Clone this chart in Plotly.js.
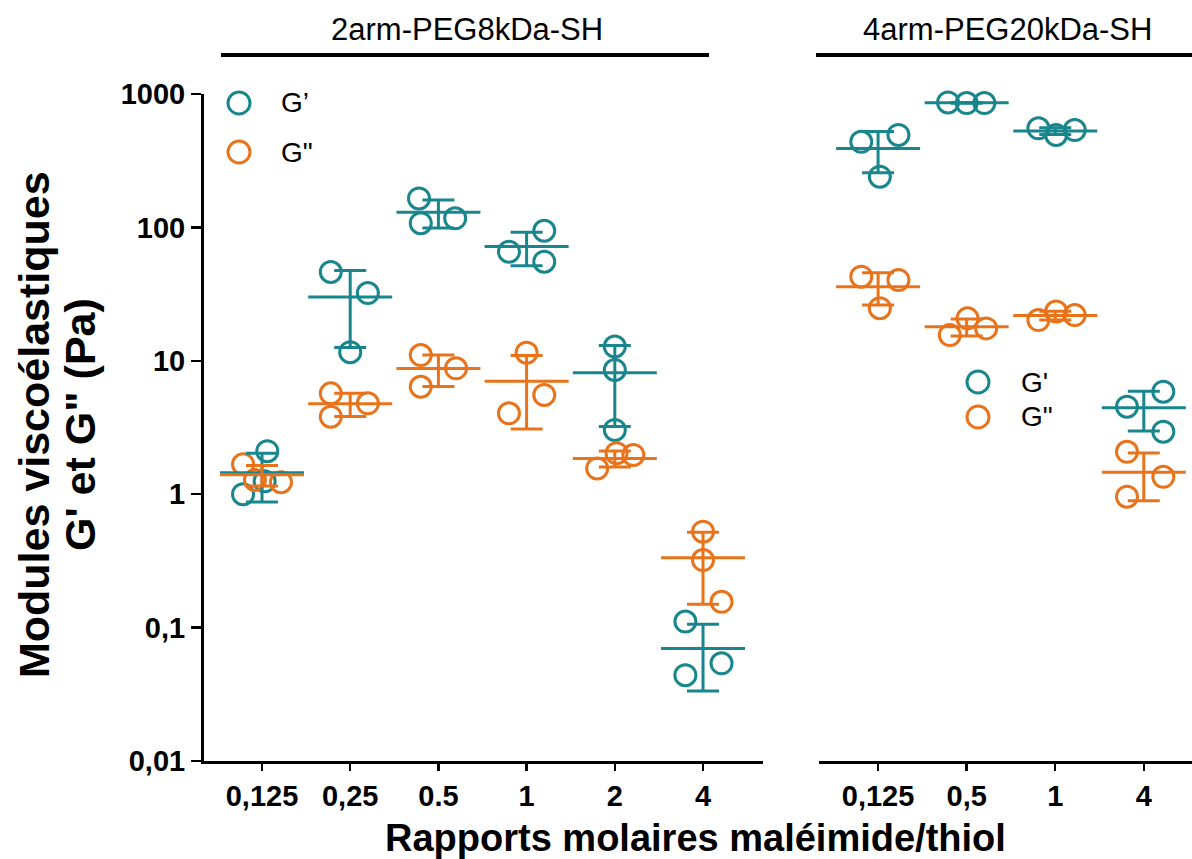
<!DOCTYPE html>
<html>
<head>
<meta charset="utf-8">
<script src="https://cdn.plot.ly/plotly-3.0.1.min.js"></script>
<style>html,body{margin:0;padding:0;background:#fff;}#chart{width:1192px;height:859px;}</style>
</head>
<body>
<div id="chart"></div>
<script>
// ---- Data ----
const groupLeft = '2arm-PEG8kDa-SH';
const groupRight = '4arm-PEG20kDa-SH';
const categoriesLeft = ['0,125', '0,25', '0.5', '1', '2', '4'];
const categoriesRight = ['0,125', '0,5', '1', '4'];

// G' (storage modulus) replicates, Pa
const gPrimeLeft = [[2.1, 1.0, 1.25], [46.3, 32.2, 11.6], [165, 107.5, 117], [94.4, 65.8, 55.3], [12.8, 8.53, 3.03], [0.111, 0.054, 0.044]];
const gPrimeRight = [[438, 493, 240], [865, 855, 855], [553, 493, 537], [5.87, 4.53, 2.94]];
// G'' (loss modulus) replicates, Pa
const gSecondLeft = [[1.68, 1.28, 1.23], [5.70, 4.80, 3.81], [11.05, 8.79, 6.39], [11.5, 5.55, 4.04], [2.03, 1.97, 1.56], [0.524, 0.321, 0.156]];
const gSecondRight = [[42.7, 40.3, 24.8], [20.8, 15.6, 17.5], [20.2, 23.4, 22.0], [2.08, 1.35, 0.958]];

const yTickVals = [0.01, 0.1, 1, 10, 100, 1000];
const yTickText = ['0,01', '0,1', '1', '10', '100', '1000'];

// ---- Presentation (horizontal spread of dots, in category units) ----
const spreadPrimeLeft = [[0.06, -0.215, 0.03], [-0.22, 0.2, 0], [-0.22, -0.2, 0.19], [0.2, -0.2, 0.2], [0, 0, 0], [-0.2, 0.21, -0.2]];
const spreadSecondLeft = [[-0.215, -0.08, 0.215], [-0.22, 0.2, -0.22], [-0.2, 0.2, -0.2], [0, 0.2, -0.2], [0.02, 0.21, -0.2], [0, 0, 0.21]];
const spreadPrimeRight = [[-0.19, 0.23, 0.02], [-0.21, 0, 0.2], [-0.19, 0.01, 0.22], [0.22, -0.19, 0.22]];
const spreadSecondRight = [[-0.19, 0.23, 0.02], [0.01, -0.19, 0.22], [-0.19, 0.01, 0.22], [-0.19, 0.22, -0.19]];

const TEAL = '#19868D';
const ORANGE = '#E8731A';
const FONT = 'Liberation Sans, Arial, Helvetica, sans-serif';

function mean(a) { return a.reduce((s, v) => s + v, 0) / a.length; }
function sd(a) { const m = mean(a); return Math.sqrt(a.reduce((s, v) => s + (v - m) * (v - m), 0) / (a.length - 1)); }

function dotsTrace(vals, spread, color, xa) {
  const x = [], y = [];
  vals.forEach((arr, i) => arr.forEach((v, j) => { x.push(i + spread[i][j]); y.push(v); }));
  return {
    type: 'scatter', mode: 'markers', x: x, y: y, xaxis: xa, yaxis: 'y',
    marker: { symbol: 'circle-open', size: 21, color: color, line: { width: 3, color: color } },
    cliponaxis: false, showlegend: false, hoverinfo: 'y'
  };
}
function meanTrace(vals, color, xa) {
  const x = vals.map((_, i) => i);
  const m = vals.map(mean);
  const s = vals.map(sd);
  return {
    type: 'scatter', mode: 'markers', x: x, y: m, xaxis: xa, yaxis: 'y',
    marker: { symbol: 'line-ew', size: 60, color: color, line: { width: 3, color: color } },
    error_y: { type: 'data', symmetric: false, array: s, arrayminus: s, color: color, thickness: 3, width: 16 },
    cliponaxis: false, showlegend: false, hoverinfo: 'y'
  };
}

const data = [
  dotsTrace(gPrimeLeft, spreadPrimeLeft, TEAL, 'x'),
  dotsTrace(gSecondLeft, spreadSecondLeft, ORANGE, 'x'),
  meanTrace(gPrimeLeft, TEAL, 'x'),
  meanTrace(gSecondLeft, ORANGE, 'x'),
  dotsTrace(gPrimeRight, spreadPrimeRight, TEAL, 'x2'),
  dotsTrace(gSecondRight, spreadSecondRight, ORANGE, 'x2'),
  meanTrace(gPrimeRight, TEAL, 'x2'),
  meanTrace(gSecondRight, ORANGE, 'x2')
];

// pixel helpers for decorations (plot area: l=204, t=94, w=988, h=667)
const L = 204, T = 94, W = 988, H = 667;
const px = v => (v - L) / W;
const py = v => (T + H - v) / H;

const tickFont = { family: FONT, size: 29, color: '#000', weight: 'bold' };
const xCommon = {
  showline: true, linewidth: 3, linecolor: '#000', ticks: 'outside', ticklen: 7, tickwidth: 2.5,
  tickcolor: '#000', showgrid: false, zeroline: false, tickfont: tickFont, anchor: 'y', fixedrange: true
};

function legendShapes(cx, cy, color) {
  return {
    type: 'circle', xref: 'paper', yref: 'paper', xsizemode: 'pixel', ysizemode: 'pixel',
    xanchor: px(cx), yanchor: py(cy), x0: -11, x1: 11, y0: -11, y1: 11,
    line: { color: color, width: 3 }, fillcolor: 'rgba(0,0,0,0)'
  };
}

function txt(text, x, y, size, opts) {
  return Object.assign({
    text: text, xref: 'paper', yref: 'paper', x: px(x), y: py(y), xanchor: 'center', yanchor: 'middle',
    showarrow: false, font: { family: FONT, size: size, color: '#000' }
  }, opts || {});
}

const layout = {
  width: 1192, height: 859,
  margin: { l: L, r: 0, t: T, b: 98, pad: 0 },
  paper_bgcolor: '#fff', plot_bgcolor: '#fff',
  showlegend: false,
  font: { family: FONT, color: '#000' },
  xaxis: Object.assign({}, xCommon, {
    domain: [0, px(763)], range: [-0.6576, 5.68],
    tickvals: categoriesLeft.map((_, i) => i), ticktext: categoriesLeft
  }),
  xaxis2: Object.assign({}, xCommon, {
    domain: [px(819), 1], range: [-0.667, 3.544],
    tickvals: categoriesRight.map((_, i) => i), ticktext: categoriesRight
  }),
  yaxis: {
    type: 'log', range: [-2, 3], anchor: 'x',
    tickvals: yTickVals, ticktext: yTickText,
    showline: true, linewidth: 3, linecolor: '#000', ticks: 'outside', ticklen: 10, tickwidth: 2.5,
    tickcolor: '#000', showgrid: false, zeroline: false, tickfont: tickFont, fixedrange: true
  },
  shapes: [
    { type: 'line', xref: 'paper', yref: 'paper', x0: px(221), x1: px(709), y0: py(55), y1: py(55), line: { color: '#000', width: 4 } },
    { type: 'line', xref: 'paper', yref: 'paper', x0: px(816), x1: 1, y0: py(55), y1: py(55), line: { color: '#000', width: 4 } },
    legendShapes(239, 103, TEAL),
    legendShapes(239, 152, ORANGE),
    legendShapes(978, 382, TEAL),
    legendShapes(978, 417, ORANGE)
  ],
  annotations: [
    txt(groupLeft, 467, 30, 31),
    txt(groupRight, 1007, 30, 31),
    txt('Modules viscoélastiques', 34, 425, 43, { textangle: -90, font: { family: FONT, size: 43, color: '#000', weight: 'bold' } }),
    txt('G\' et G" (Pa)', 80, 425, 43, { textangle: -90, font: { family: FONT, size: 43, color: '#000', weight: 'bold' } }),
    txt('Rapports molaires maléimide/thiol', 695, 838, 38, { font: { family: FONT, size: 38, color: '#000', weight: 'bold' } }),
    txt('G’', 279, 103, 28, { xanchor: 'left' }),
    txt('G"', 279, 152, 28, { xanchor: 'left' }),
    txt('G\'', 1019, 382, 28, { xanchor: 'left' }),
    txt('G"', 1019, 417, 28, { xanchor: 'left' })
  ]
};

Plotly.newPlot('chart', data, layout, { displayModeBar: false, staticPlot: true });
</script>
</body>
</html>
